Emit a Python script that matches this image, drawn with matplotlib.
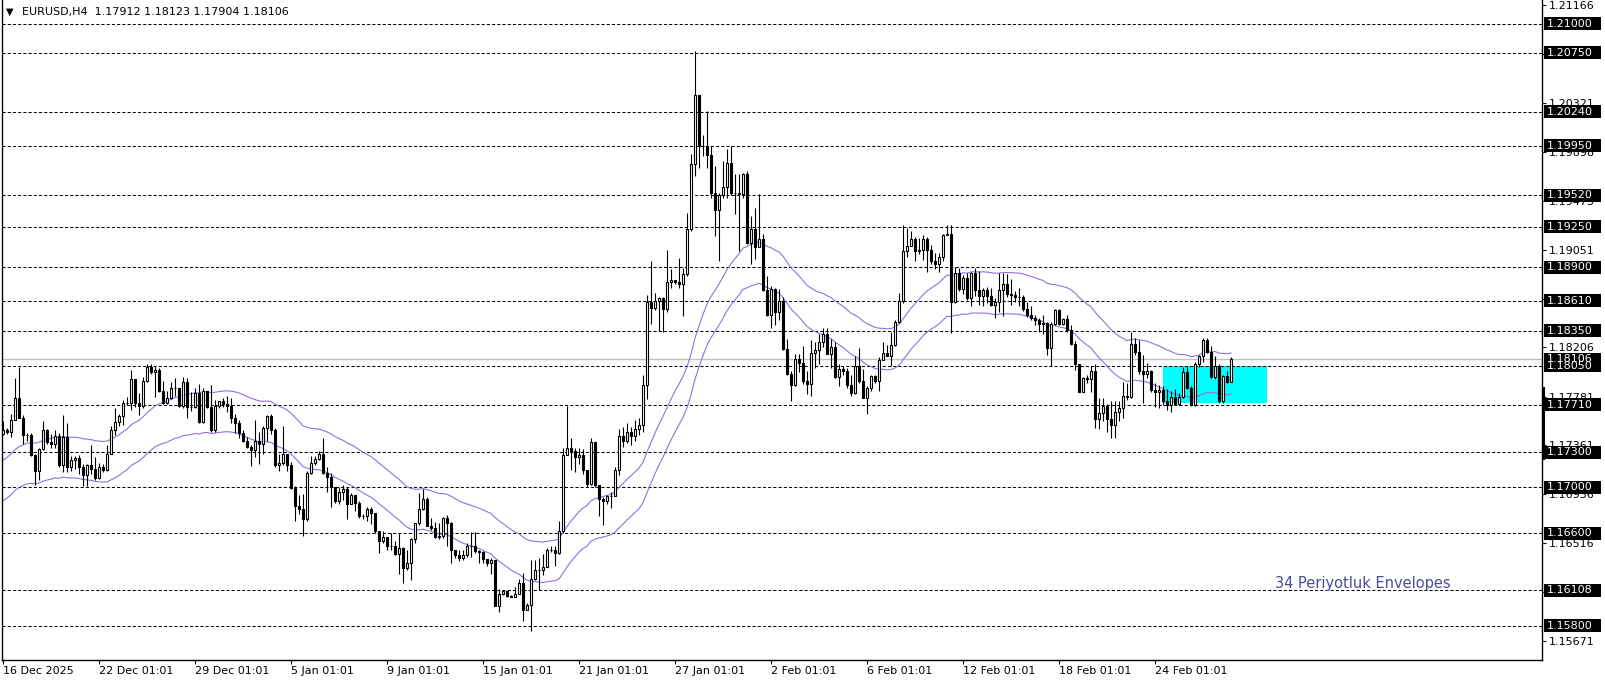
import matplotlib
matplotlib.use("Agg")
import matplotlib.pyplot as plt
import matplotlib.transforms as mtransforms
from matplotlib.patches import Rectangle
import numpy as np
import pandas as pd

# EURUSD H4 candles, bar 0 = 16 Dec 2025 01:00
closes = [
    1.1749, 1.1748, 1.1758, 1.1777, 1.1760, 1.1745, 1.1745, 1.1728, 1.1714, 1.1733,
    1.1749, 1.1739, 1.1737, 1.1744, 1.1719, 1.1743, 1.1717, 1.1723, 1.1725, 1.1717,
    1.1710, 1.1719, 1.1716, 1.1708, 1.1717, 1.1715, 1.1729, 1.1749, 1.1756, 1.1761,
    1.1773, 1.1773, 1.1793, 1.1773, 1.1770, 1.1792, 1.1804, 1.1799, 1.1801, 1.1783,
    1.1773, 1.1777, 1.1786, 1.1786, 1.1770, 1.1791, 1.1769, 1.1769, 1.1781, 1.1756,
    1.1783, 1.1769, 1.1749, 1.1770, 1.1774, 1.1772, 1.1770, 1.1760, 1.1755, 1.1747,
    1.1740, 1.1735, 1.1732, 1.1740, 1.1737, 1.1751, 1.1761, 1.1749, 1.1719, 1.1721,
    1.1729, 1.1719, 1.1699, 1.1684, 1.1681, 1.1672, 1.1712, 1.1721, 1.1724, 1.1729,
    1.1712, 1.1709, 1.1700, 1.1688, 1.1696, 1.1698, 1.1685, 1.1693, 1.1686, 1.1675,
    1.1675, 1.1681, 1.1678, 1.1662, 1.1653, 1.1657, 1.1649, 1.1649, 1.1642, 1.1647,
    1.1630, 1.1634, 1.1655, 1.1669, 1.1681, 1.1690, 1.1666, 1.1665, 1.1657, 1.1658,
    1.1673, 1.1669, 1.1646, 1.1641, 1.1639, 1.1641, 1.1649, 1.1649, 1.1645, 1.1644,
    1.1638, 1.1634, 1.1637, 1.1597, 1.1608, 1.1610, 1.1606, 1.1605, 1.1608, 1.1617,
    1.1594, 1.1598, 1.1621, 1.1628, 1.1628, 1.1631, 1.1646, 1.1646, 1.1643, 1.1662,
    1.1728, 1.1734, 1.1731, 1.1726, 1.1728, 1.1715, 1.1703, 1.1739, 1.1702, 1.1690,
    1.1688, 1.1692, 1.1692, 1.1715, 1.1744, 1.1740, 1.1748, 1.1744, 1.1750, 1.1754,
    1.1788, 1.1860, 1.1855, 1.1861, 1.1863, 1.1854, 1.1877, 1.1879, 1.1877, 1.1875,
    1.1884, 1.1923, 1.1979, 1.2039, 1.1995, 1.1995, 1.1987, 1.1954, 1.1939, 1.1952,
    1.1959, 1.1980, 1.1954, 1.1954, 1.1953, 1.1970, 1.1911, 1.1923, 1.1907, 1.1914,
    1.1870, 1.1849, 1.1871, 1.1851, 1.1861, 1.1819, 1.1798, 1.1788, 1.1811, 1.1807,
    1.1792, 1.1789, 1.1816, 1.1818, 1.1825, 1.1832, 1.1815, 1.1821, 1.1795, 1.1802,
    1.1800, 1.1788, 1.1781, 1.1805, 1.1792, 1.1777, 1.1786, 1.1796, 1.1792, 1.1810,
    1.1816, 1.1813, 1.1823, 1.1843, 1.1861, 1.1904, 1.1908, 1.1914, 1.1904, 1.1905,
    1.1914, 1.1905, 1.1895, 1.1893, 1.1899, 1.1918, 1.1919, 1.1860, 1.1885, 1.1871,
    1.1881, 1.1863, 1.1885, 1.1870, 1.1865, 1.1870, 1.1865, 1.1857, 1.1860, 1.1870,
    1.1875, 1.1867, 1.1866, 1.1864, 1.1864, 1.1854, 1.1849, 1.1846, 1.1844, 1.1841,
    1.1842, 1.1820, 1.1841, 1.1853, 1.1841, 1.1845, 1.1836, 1.1824, 1.1806, 1.1782,
    1.1794, 1.1793, 1.1800, 1.1759, 1.1764, 1.1770, 1.1759, 1.1754, 1.1765, 1.1768,
    1.1779, 1.1778, 1.1824, 1.1817, 1.1800, 1.1798, 1.1800, 1.1784, 1.1782, 1.1784,
    1.1774, 1.1771, 1.1778, 1.1772, 1.1778, 1.1799, 1.1786, 1.1771, 1.1806, 1.1813,
    1.1827, 1.1817, 1.1795, 1.1805, 1.1774, 1.1796, 1.1791, 1.18106,
]
highs = [
    1.1757, 1.1751, 1.1763, 1.1794, 1.1804, 1.1762, 1.1747, 1.1747, 1.1729, 1.1734,
    1.1757, 1.1750, 1.1746, 1.1749, 1.1747, 1.1762, 1.1755, 1.1727, 1.1727, 1.1728,
    1.1720, 1.1720, 1.1736, 1.1726, 1.1721, 1.1720, 1.1736, 1.1753, 1.1768, 1.1763,
    1.1775, 1.1778, 1.1801, 1.1793, 1.1781, 1.1795, 1.1806, 1.1806, 1.1805, 1.1803,
    1.1792, 1.1783, 1.1791, 1.1794, 1.1786, 1.1795, 1.1794, 1.1782, 1.1786, 1.1789,
    1.1786, 1.1783, 1.1788, 1.1775, 1.1774, 1.1777, 1.1779, 1.1777, 1.1763, 1.1758,
    1.1749, 1.1743, 1.1736, 1.1758, 1.1748, 1.1753, 1.1762, 1.1763, 1.1751, 1.1729,
    1.1753, 1.1729, 1.1722, 1.1701, 1.1693, 1.1694, 1.1714, 1.1727, 1.1727, 1.1731,
    1.1742, 1.1717, 1.1712, 1.1700, 1.1700, 1.1702, 1.1700, 1.1695, 1.1693, 1.1688,
    1.1677, 1.1683, 1.1683, 1.1678, 1.1662, 1.1662, 1.1657, 1.1660, 1.1653, 1.1660,
    1.1648, 1.1646, 1.1656, 1.1669, 1.1695, 1.1698, 1.1691, 1.1673, 1.1670, 1.1669,
    1.1674, 1.1676, 1.1670, 1.1646, 1.1646, 1.1646, 1.1652, 1.1661, 1.1661, 1.1646,
    1.1645, 1.1638, 1.1639, 1.1637, 1.1612, 1.1611, 1.1609, 1.1607, 1.1614, 1.1621,
    1.1626, 1.1600, 1.1637, 1.1637, 1.1639, 1.1642, 1.1647, 1.1649, 1.1649, 1.1671,
    1.1734, 1.1770, 1.1742, 1.1734, 1.1734, 1.1733, 1.1715, 1.1742, 1.1739, 1.1701,
    1.1691, 1.1693, 1.1696, 1.1717, 1.1750, 1.1752, 1.1755, 1.1752, 1.1758, 1.1760,
    1.1797, 1.1866, 1.1895, 1.1868, 1.1864, 1.1864, 1.1905, 1.1888, 1.1879, 1.1898,
    1.1889, 1.1937, 1.1988, 1.2077, 1.2039, 1.2004, 1.2025, 1.1995, 1.1977, 1.1954,
    1.1982, 1.1992, 1.1995, 1.1970, 1.1970, 1.1971, 1.1973, 1.1934, 1.1941, 1.1953,
    1.1919, 1.1882, 1.1874, 1.1872, 1.1871, 1.1864, 1.1828, 1.1800, 1.1815, 1.1815,
    1.1822, 1.1800, 1.1827, 1.1825, 1.1832, 1.1837, 1.1837, 1.1828, 1.1825, 1.1806,
    1.1805, 1.1803, 1.1797, 1.1813, 1.1820, 1.1802, 1.1787, 1.1797, 1.1797, 1.1812,
    1.1825, 1.1823, 1.1834, 1.1844, 1.1868, 1.1926, 1.1924, 1.1921, 1.1916, 1.1915,
    1.1918, 1.1916, 1.1909, 1.1902, 1.1902, 1.1919, 1.1926, 1.1926, 1.1890, 1.1889,
    1.1883, 1.1885, 1.1886, 1.1889, 1.1887, 1.1872, 1.1873, 1.1872, 1.1863, 1.1885,
    1.1885, 1.1884, 1.1880, 1.1869, 1.1872, 1.1866, 1.1860, 1.1856, 1.1849, 1.1846,
    1.1849, 1.1843, 1.1843, 1.1854, 1.1854, 1.1846, 1.1849, 1.1840, 1.1826, 1.1806,
    1.1795, 1.1797, 1.1805, 1.1806, 1.1777, 1.1777, 1.1772, 1.1774, 1.1774, 1.1774,
    1.1791, 1.1790, 1.1834, 1.1829, 1.1827, 1.1814, 1.1807, 1.1801, 1.1790, 1.1788,
    1.1787, 1.1785, 1.1783, 1.1785, 1.1781, 1.1804, 1.1805, 1.1787, 1.1808, 1.1814,
    1.1829, 1.1829, 1.1822, 1.1813, 1.1806, 1.1797, 1.1800, 1.18123,
]
lows = [
    1.1745, 1.1746, 1.1743, 1.1758, 1.1760, 1.1737, 1.1740, 1.1727, 1.1702, 1.1706,
    1.1732, 1.1737, 1.1734, 1.1734, 1.1717, 1.1713, 1.1713, 1.1714, 1.1716, 1.1711,
    1.1701, 1.1701, 1.1711, 1.1706, 1.1707, 1.1713, 1.1714, 1.1729, 1.1745, 1.1753,
    1.1754, 1.1771, 1.1767, 1.1769, 1.1762, 1.1768, 1.1791, 1.1798, 1.1778, 1.1782,
    1.1772, 1.1772, 1.1776, 1.1779, 1.1769, 1.1768, 1.1760, 1.1766, 1.1768, 1.1755,
    1.1755, 1.1768, 1.1748, 1.1748, 1.1768, 1.1769, 1.1765, 1.1755, 1.1747, 1.1742,
    1.1739, 1.1734, 1.1718, 1.1726, 1.1720, 1.1729, 1.1740, 1.1746, 1.1717, 1.1714,
    1.1719, 1.1714, 1.1698, 1.1671, 1.1677, 1.1658, 1.1671, 1.1711, 1.1719, 1.1723,
    1.1711, 1.1696, 1.1683, 1.1686, 1.1685, 1.1689, 1.1672, 1.1685, 1.1679, 1.1673,
    1.1672, 1.1671, 1.1668, 1.1660, 1.1643, 1.1652, 1.1646, 1.1646, 1.1641, 1.1625,
    1.1617, 1.1628, 1.1620, 1.1652, 1.1667, 1.1680, 1.1666, 1.1663, 1.1656, 1.1655,
    1.1656, 1.1649, 1.1634, 1.1639, 1.1636, 1.1637, 1.1640, 1.1640, 1.1643, 1.1634,
    1.1634, 1.1632, 1.1625, 1.1597, 1.1592, 1.1607, 1.1605, 1.1605, 1.1605, 1.1608,
    1.1584, 1.1594, 1.1576, 1.1620, 1.1611, 1.1624, 1.1631, 1.1644, 1.1632, 1.1642,
    1.1660, 1.1728, 1.1715, 1.1713, 1.1720, 1.1711, 1.1700, 1.1702, 1.1700, 1.1675,
    1.1667, 1.1685, 1.1682, 1.1693, 1.1710, 1.1735, 1.1738, 1.1736, 1.1740, 1.1745,
    1.1748, 1.1776, 1.1841, 1.1853, 1.1835, 1.1834, 1.1851, 1.1872, 1.1875, 1.1872,
    1.1848, 1.1882, 1.1921, 1.1969, 1.1976, 1.1986, 1.1976, 1.1950, 1.1917, 1.1895,
    1.1950, 1.1950, 1.1952, 1.1936, 1.1904, 1.1950, 1.1910, 1.1893, 1.1897, 1.1907,
    1.1869, 1.1848, 1.1837, 1.1840, 1.1844, 1.1818, 1.1797, 1.1774, 1.1787, 1.1799,
    1.1789, 1.1780, 1.1779, 1.1803, 1.1806, 1.1821, 1.1815, 1.1803, 1.1794, 1.1787,
    1.1797, 1.1786, 1.1779, 1.1780, 1.1790, 1.1777, 1.1763, 1.1783, 1.1790, 1.1783,
    1.1810, 1.1813, 1.1805, 1.1822, 1.1842, 1.1859, 1.1899, 1.1908, 1.1895, 1.1901,
    1.1896, 1.1886, 1.1893, 1.1888, 1.1886, 1.1895, 1.1918, 1.1833, 1.1859, 1.1869,
    1.1867, 1.1862, 1.1856, 1.1865, 1.1857, 1.1856, 1.1859, 1.1856, 1.1846, 1.1851,
    1.1848, 1.1864, 1.1857, 1.1860, 1.1856, 1.1852, 1.1847, 1.1844, 1.1840, 1.1834,
    1.1832, 1.1814, 1.1805, 1.1840, 1.1840, 1.1840, 1.1834, 1.1823, 1.1801, 1.1782,
    1.1782, 1.1790, 1.1782, 1.1751, 1.1750, 1.1757, 1.1748, 1.1742, 1.1742, 1.1757,
    1.1760, 1.1775, 1.1777, 1.1814, 1.1798, 1.1773, 1.1794, 1.1782, 1.1769, 1.1768,
    1.1771, 1.1767, 1.1765, 1.1771, 1.1771, 1.1777, 1.1785, 1.1770, 1.1770, 1.1804,
    1.1808, 1.1816, 1.1794, 1.1793, 1.1773, 1.1773, 1.1790, 1.17904,
]
first_open = 1.1746
ema_seed = 1.1703      # envelope midline just before the first bar
env_period = 34
env_dev = 0.0015

levels = [1.21000, 1.20750, 1.20240, 1.19950, 1.19520, 1.19250, 1.18900, 1.18610,
          1.18350, 1.18050, 1.17710, 1.17300, 1.17000, 1.16600, 1.16108, 1.15800]
axis_ticks = [1.21166, 1.20744, 1.20321, 1.19898, 1.19475, 1.19051, 1.18628, 1.18206,
              1.17781, 1.17361, 1.16936, 1.16516, 1.16091, 1.15671]
date_labels = ["16 Dec 2025", "22 Dec 01:01", "29 Dec 01:01", "5 Jan 01:01", "9 Jan 01:01",
               "15 Jan 01:01", "21 Jan 01:01", "27 Jan 01:01", "2 Feb 01:01", "6 Feb 01:01",
               "12 Feb 01:01", "18 Feb 01:01", "24 Feb 01:01"]
bid = 1.18106
zone_low, zone_high = 1.17726, 1.18050
zone_start, zone_end = 290, 316
title = "EURUSD,H4  1.17912 1.18123 1.17904 1.18106"
note = "34 Periyotluk Envelopes"

W, H = 1606, 684
y_top, y_bot = 1.212073, 1.155063
fig = plt.figure(figsize=(W / 100, H / 100), dpi=100)
fig.patch.set_facecolor("white")
ax = fig.add_axes([2 / W, 24 / H, 1540 / W, 660 / H])
ax.set_xlim(-0.25, 384.75)
ax.set_ylim(y_bot, y_top)
ax.set_facecolor("white")

c = np.array(closes)
o = np.array([first_open] + closes[:-1])
hi = np.maximum(np.array(highs), np.maximum(o, c))
lo = np.minimum(np.array(lows), np.minimum(o, c))
x = np.arange(len(c))

# envelope: EMA(34) of close +/- 0.15 %
ema = pd.Series([ema_seed] + closes).ewm(span=env_period, adjust=False).mean().iloc[1:].to_numpy()
ax.plot(x, ema * (1 + env_dev), color="#9370DB", lw=0.8, zorder=2)
ax.plot(x, ema * (1 - env_dev), color="#9370DB", lw=0.8, zorder=2)

# horizontal levels
for lv in levels:
    ax.axhline(lv, color="black", lw=0.75, ls=(0, (3, 2)), zorder=1)
ax.axhline(bid, color="#C0C0C0", lw=1.0, zorder=1)

# zone rectangle
ax.add_patch(Rectangle((zone_start, zone_low), zone_end - zone_start, zone_high - zone_low,
                       facecolor="#00FFFF", edgecolor="none", zorder=0.5))

# candles
ax.vlines(x, lo, hi, color="black", lw=0.8, zorder=3)
up = c >= o
ax.bar(x[up], (c - o)[up], bottom=o[up], width=0.6, facecolor="white",
       edgecolor="black", lw=0.8, zorder=4)
ax.bar(x[~up], (o - c)[~up], bottom=c[~up], width=0.6, facecolor="black",
       edgecolor="black", lw=0.8, zorder=4)

# axes frame
ax.spines["top"].set_visible(False)
for side in ["left", "bottom", "right"]:
    ax.spines[side].set_linewidth(1.0)
    ax.spines[side].set_color("black")

ax.set_xticks(np.arange(len(date_labels)) * 24)
ax.set_xticklabels(date_labels, ha="left", fontsize=8)
ax.tick_params(axis="x", direction="out", length=3, width=0.8, pad=1.5)
ax.yaxis.tick_right()
ax.set_yticks(axis_ticks)
ax.set_yticklabels([f"{t:.5f}" for t in axis_ticks], fontsize=8)
ax.tick_params(axis="y", direction="out", length=3, width=0.8, pad=2)

# price boxes on the right scale
tr = mtransforms.blended_transform_factory(ax.transAxes, ax.transData)
px_y = (y_top - y_bot) / 660
bw = 57 / 1540
bx = 1.0013
for lv in [bid] + levels:
    ax.add_patch(Rectangle((bx, lv - 6.5 * px_y), bw, 13 * px_y, transform=tr,
                           facecolor="black", edgecolor="none", clip_on=False, zorder=10))
    ax.text(bx + 2.5 / 1540, lv, f"{lv:.5f}", transform=tr, color="white", fontsize=8,
            va="center", ha="left", zorder=11, clip_on=False)
ax.plot([1.0005, 1.0005], [1.1786, 1.1725], transform=tr, color="black", lw=2.2,
        clip_on=False, zorder=9)

# title and note
fig.text(6 / W, 1 - 12 / H, "\u25BC", fontsize=7, va="center", ha="left")
fig.text(22 / W, 1 - 12 / H, title, fontsize=8, va="center", ha="left")
ax.text(1273 / 1540, 1.16165, note, transform=tr, fontsize=10.5,
        color="#4B4B9B", va="center", ha="left", zorder=5)

fig.savefig("out.png", dpi=100, facecolor="white")
